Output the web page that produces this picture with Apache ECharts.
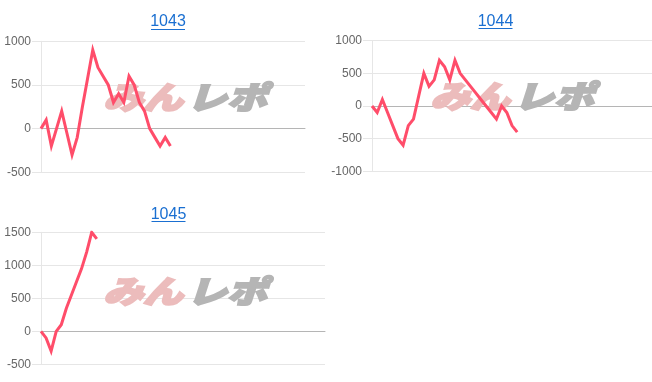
<!DOCTYPE html>
<html>
<head>
<meta charset="utf-8">
<style>
html,body{margin:0;padding:0;background:#fff;}
#chart{width:652px;height:382px;}
</style>
<script src="https://cdn.jsdelivr.net/npm/echarts@6/dist/echarts.min.js"></script>
</head>
<body>
<div id="chart"></div>
<script>
// ---- data ----
var titles = ['1043', '1044', '1045'];
var values1043 = [0, 100, -200, 0, 200, -50, -300, -100, 250, 575, 900, 700, 600, 500, 300, 400, 300, 600, 500, 300, 200, 0, -100, -200, -100, -200];
var values1044 = [0, -100, 100, -100, -300, -500, -600, -300, -200, 150, 500, 300, 400, 700, 600, 400, 700, 500, 400, 300, 200, 100, 0, -100, -200, 0, -100, -300, -400];
var values1045 = [0, -100, -300, 0, 100, 350, 550, 750, 950, 1200, 1500, 1400];
var categoryCounts = [52, 55, 57];
var yRanges = [[-500, 1000, 500], [-1000, 1000, 500], [-500, 1500, 500]];

function cats(n) { var a = []; for (var i = 1; i <= n; i++) a.push(String(i)); return a; }

var chart = echarts.init(document.getElementById('chart'), null, {renderer: 'canvas'});

var grids = [
  {left: 41, top: 41.3, width: 264, height: 131},
  {left: 372, top: 40.7, width: 280, height: 130.6},
  {left: 41, top: 232.3, width: 284, height: 132}
];
var seriesData = [values1043, values1044, values1045];

var xAxes = [], yAxes = [], series = [];
for (var i = 0; i < 3; i++) {
  xAxes.push({
    type: 'category', gridIndex: i, data: cats(categoryCounts[i]), boundaryGap: false,
    axisLine: {show: true, onZero: true, lineStyle: {color: '#b5b5b5', width: 1}},
    axisTick: {show: false}, axisLabel: {show: false}, splitLine: {show: false}
  });
  yAxes.push({
    type: 'value', gridIndex: i, min: yRanges[i][0], max: yRanges[i][1], interval: yRanges[i][2],
    axisLine: {show: true, lineStyle: {color: '#e6e6e6'}},
    axisTick: {show: true, length: 9, lineStyle: {color: '#e6e6e6'}},
    axisLabel: {color: '#666', fontSize: 12, fontFamily: 'Liberation Sans, Arial, sans-serif', margin: 10,
      formatter: function (v) { return String(v); }},
    splitLine: {show: true, lineStyle: {color: '#e6e6e6', width: 1}}
  });
  series.push({
    type: 'line', xAxisIndex: i, yAxisIndex: i, data: seriesData[i],
    showSymbol: false, symbol: 'none', z: 5, animation: false,
    lineStyle: {color: '#ff4d6a', width: 3, join: 'miter'}
  });
}

var titlePos = [[168, 22, 29.5], [495.5, 21.5, 28.5], [168.5, 214.5, 221.5]];
var wmPos = [[185, 97], [512, 96], [185, 291]];
var graphics = [];
for (var k = 0; k < 3; k++) {
  graphics.push({
    type: 'text', x: titlePos[k][0], y: titlePos[k][1], z: 10,
    style: {text: titles[k], fill: '#1a6fd1', font: '16px "Liberation Sans", Arial, sans-serif', textAlign: 'center', textVerticalAlign: 'middle'}
  });
  graphics.push({
    type: 'line', z: 10,
    shape: {x1: titlePos[k][0] - 17, y1: titlePos[k][2], x2: titlePos[k][0] + 17, y2: titlePos[k][2]},
    style: {stroke: '#1a6fd1', lineWidth: 1}
  });
  graphics.push({
    type: 'text', x: wmPos[k][0] - 2, y: wmPos[k][1], z: 1, scaleX: 1.05, scaleY: 0.82,
    style: {text: 'みん', fill: '#ecbcbc', stroke: '#ecbcbc', lineWidth: 2.5, font: 'italic 900 38px "Noto Sans CJK JP", sans-serif', textAlign: 'right', textVerticalAlign: 'middle'}
  });
  graphics.push({
    type: 'text', x: wmPos[k][0] + 2, y: wmPos[k][1], z: 1, scaleX: 1.05, scaleY: 0.82,
    style: {text: 'レポ', fill: '#b5b5b5', stroke: '#b5b5b5', lineWidth: 2.5, font: 'italic 900 38px "Noto Sans CJK JP", sans-serif', textAlign: 'left', textVerticalAlign: 'middle'}
  });
}

chart.setOption({
  animation: false,
  grid: grids,
  xAxis: xAxes,
  yAxis: yAxes,
  series: series,
  graphic: graphics
});
</script>
</body>
</html>
